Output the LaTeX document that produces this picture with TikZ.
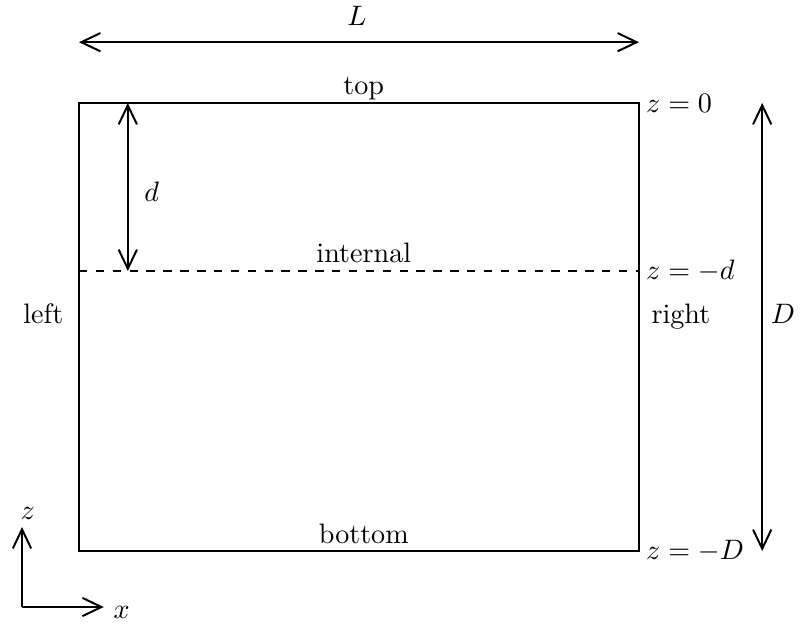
\documentclass[tikz,border=0pt]{standalone}
\usepackage{amsmath}
\usepackage{tikz}
\usetikzlibrary{positioning,arrows.meta}
\tikzset{
  wall/.style={line width=0.7pt},
  dim/.style={line width=0.7pt,{Straight Barb[length=6.8pt,width=6.5pt]}-{Straight Barb[length=6.8pt,width=6.5pt]}},
  axis/.style={line width=0.7pt,-{Straight Barb[length=6.8pt,width=6.5pt]}},
  edgelab/.style={anchor=base,yshift=0.1cm}}

\begin{document}
\begin{tikzpicture}
\useasboundingbox (-0.9875,-0.9625) rectangle (9.15,6.8875);
\coordinate (bl) at (0,0);
\coordinate (br) at (7,0);
\coordinate (tl) at (0,5.6);
\coordinate (tr) at (7,5.6);
\coordinate (il) at (0,3.5);
\coordinate (ir) at (7,3.5);
\draw [wall] (bl) rectangle (tr);
\draw [wall,dashed] (il) -- (ir);
% dimensions
\coordinate (Lw) at (0,6.36);
\coordinate (Le) at (7,6.36);
\draw [dim] (Lw) -- (Le);
\node (Llab) at (3.475,6.69) {$L$};
\coordinate (Dt) at (8.54,5.6);
\coordinate (Db) at (8.54,0);
\draw [dim] (Dt) -- (Db);
\node (Dlab) at (8.8,2.97) {$D$};
\coordinate (dt) at (0.61,5.6);
\coordinate (db) at (0.61,3.5);
\draw [dim] (dt) -- (db);
\node (dlab) at (0.91,4.49) {$d$};
% boundary labels
\node [edgelab] (top) at (3.56,5.6) {top};
\node [edgelab] (internal) at (3.56,3.5) {internal};
\node [edgelab] (bottom) at (3.56,0) {bottom};
\node [anchor=base east,inner sep=0pt] (left) at (-0.19,2.85) {left};
\node [anchor=base west,inner sep=0pt] (right) at (7.15,2.85) {right};
\node [right=-1pt] (z0) at (tr) {$z=0$};
\node [right=-1pt] (zd) at (ir) {$z=-d$};
\node [right=-1pt] (zD) at (br) {$z=-D$};
% axes
\coordinate (o) at (-0.7125,-0.70);
\coordinate (zend) at (-0.7125,0.30);
\coordinate (xend) at (0.31,-0.70);
\draw [axis] (o) -- (zend);
\draw [axis] (o) -- (xend);
\node [above=-1pt] (zlab) at (-0.64,0.30) {$z$};
\node [right=0pt,yshift=-2pt] (xlab) at (xend) {$x$};
\end{tikzpicture}
\end{document}
